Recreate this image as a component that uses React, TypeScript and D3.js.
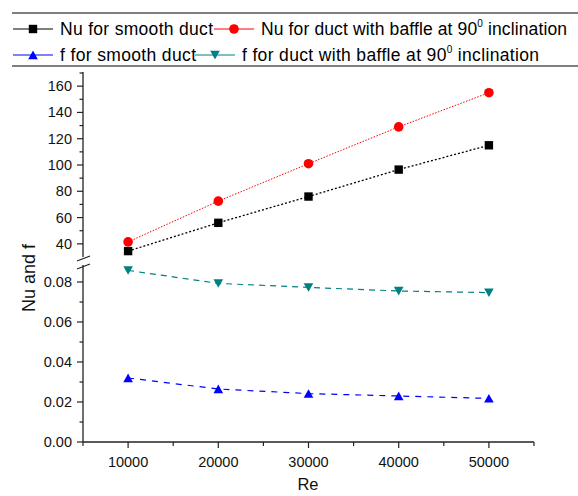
import React from 'react';
import * as d3 from 'd3';

const reValues = [10000, 20000, 30000, 40000, 50000];
const nuSmooth = [34.5, 56, 76, 96.5, 115];
const nuBaffle = [41.5, 72.5, 101, 129, 155];
const fSmooth = [0.032, 0.0265, 0.0242, 0.023, 0.0218];
const fBaffle = [0.0858, 0.0793, 0.0773, 0.0755, 0.0747];

const xTicks = [10000, 20000, 30000, 40000, 50000];
const nuTicks = [40, 60, 80, 100, 120, 140, 160];
const fTicks = [0, 0.02, 0.04, 0.06, 0.08];

const W = 578;
const H = 496;
const FONT = 'Liberation Sans, Arial, sans-serif';

const x = d3.scaleLinear().domain([5000, 55000]).range([83, 534]);
const yTop = d3.scaleLinear().domain([30, 170]).range([257, 73]);
const yBot = d3.scaleLinear().domain([0, 0.0885]).range([442, 265]);

function Marker({ kind, cx, cy }: { kind: string; cx: number; cy: number }) {
  if (kind === 'square')
    return <rect x={cx - 4.2} y={cy - 4.2} width={8.4} height={8.4} fill="#000" />;
  if (kind === 'circle') return <circle cx={cx} cy={cy} r={4.8} fill="#ff0000" />;
  if (kind === 'up')
    return <path d={`M${cx - 4.8},${cy + 4.2}L${cx + 4.8},${cy + 4.2}L${cx},${cy - 4.4}Z`} fill="#0000ff" />;
  return <path d={`M${cx - 4.8},${cy - 4.2}L${cx + 4.8},${cy - 4.2}L${cx},${cy + 4.4}Z`} fill="#008080" />;
}

const series = [
  { values: nuSmooth, scale: yTop, color: '#000', kind: 'square', dash: '2 2', w: 1.3 },
  { values: nuBaffle, scale: yTop, color: '#ff0000', kind: 'circle', dash: '1.5 1.5', w: 1 },
  { values: fSmooth, scale: yBot, color: '#0000ff', kind: 'up', dash: '6 6', w: 1.2 },
  { values: fBaffle, scale: yBot, color: '#008080', kind: 'down', dash: '6 5', w: 1.2 },
];

function LegendItem({ x0, y, color, kind, len, children }: any) {
  return (
    <g>
      <line x1={x0} x2={x0 + 40} y1={y} y2={y} stroke={color} strokeWidth={1} />
      <Marker kind={kind} cx={x0 + 20} cy={y} />
      <text
        x={x0 + 47}
        y={y + 6}
        fontSize={17.5}
        fontFamily={FONT}
        fill="#000"
        textLength={len}
        lengthAdjust="spacing"
      >
        {children}
      </text>
    </g>
  );
}

export default function App() {
  const axisColor = '#222';
  const x0 = x.range()[0];
  return (
    <svg width={W} height={H} style={{ position: 'absolute', left: 0, top: 0, background: '#fff' }}>
      {/* legend */}
      <line x1={12} x2={W} y1={13} y2={13} stroke="#555" strokeWidth={1.3} />
      <line x1={12} x2={W} y1={66} y2={66} stroke="#555" strokeWidth={1.3} />
      <LegendItem x0={13} y={29} color="#000" kind="square" len={153}>Nu for smooth duct</LegendItem>
      <LegendItem x0={214} y={29} color="#ff0000" kind="circle" len={306}>
        Nu for duct with baffle at 90<tspan fontSize={10} dy={-8}>0</tspan>
        <tspan dy={8}> inclination</tspan>
      </LegendItem>
      <LegendItem x0={13} y={55} color="#0000ff" kind="up" len={136}>f for smooth duct</LegendItem>
      <LegendItem x0={195} y={55} color="#008080" kind="down" len={297}>
        f for duct with baffle at 90<tspan fontSize={10} dy={-8}>0</tspan>
        <tspan dy={8}> inclination</tspan>
      </LegendItem>

      {/* axes with break */}
      <line x1={x0} x2={x0} y1={yTop.range()[1] - 1} y2={yTop.range()[0]} stroke={axisColor} strokeWidth={1.3} />
      <line x1={x0} x2={x0} y1={yBot.range()[1]} y2={yBot.range()[0]} stroke={axisColor} strokeWidth={1.3} />
      <line x1={x0 - 6} x2={x0 + 7} y1={yTop.range()[0] + 4} y2={yTop.range()[0] - 1} stroke={axisColor} strokeWidth={1.3} />
      <line x1={x0 - 6} x2={x0 + 7} y1={yBot.range()[1] + 4} y2={yBot.range()[1] - 1} stroke={axisColor} strokeWidth={1.3} />
      <line x1={x0} x2={x.range()[1]} y1={yBot.range()[0]} y2={yBot.range()[0]} stroke={axisColor} strokeWidth={1.3} />

      {/* x ticks */}
      {d3.range(5000, 55001, 5000).map((v) => {
        const major = v % 10000 === 0;
        return (
          <line key={v} x1={x(v)} x2={x(v)} y1={yBot.range()[0]} y2={yBot.range()[0] + (major ? 6 : 4)} stroke={axisColor} strokeWidth={1.2} />
        );
      })}
      {xTicks.map((v) => (
        <text key={v} x={x(v)} y={467} textAnchor="middle" fontSize={14.5} fontFamily={FONT} fill="#111">
          {v}
        </text>
      ))}

      {/* y ticks upper */}
      {d3.range(40, 171, 10).map((v) => (
        <line key={v} x1={x0 - (v % 20 === 0 ? 6 : 3.5)} x2={x0} y1={yTop(v)} y2={yTop(v)} stroke={axisColor} strokeWidth={1.2} />
      ))}
      {nuTicks.map((v) => (
        <text key={v} x={72} y={yTop(v) + 5} textAnchor="end" fontSize={14.5} fontFamily={FONT} fill="#111">
          {v}
        </text>
      ))}
      {/* y ticks lower */}
      {d3.range(0, 0.0801, 0.01).map((v) => {
        const major = Math.round(v * 100) % 2 === 0;
        return (
          <line key={v} x1={x0 - (major ? 6 : 3.5)} x2={x0} y1={yBot(v)} y2={yBot(v)} stroke={axisColor} strokeWidth={1.2} />
        );
      })}
      {fTicks.map((v) => (
        <text key={v} x={72} y={yBot(v) + 5} textAnchor="end" fontSize={14.5} fontFamily={FONT} fill="#111">
          {v.toFixed(2)}
        </text>
      ))}

      {/* axis titles */}
      <text x={308} y={490} textAnchor="middle" fontSize={16.5} fontFamily={FONT} fill="#111">Re</text>
      <text transform="translate(35,278) rotate(-90)" textAnchor="middle" fontSize={18} fontFamily={FONT} fill="#111">
        Nu and f
      </text>

      {/* series */}
      {series.map((s, i) => {
        const line = d3
          .line<number>()
          .x((_, j) => x(reValues[j]))
          .y((d) => s.scale(d));
        return (
          <g key={i}>
            <path d={line(s.values) || ''} fill="none" stroke={s.color} strokeWidth={s.w} strokeDasharray={s.dash} />
            {s.values.map((v, j) => (
              <Marker key={j} kind={s.kind} cx={x(reValues[j])} cy={s.scale(v)} />
            ))}
          </g>
        );
      })}
    </svg>
  );
}
